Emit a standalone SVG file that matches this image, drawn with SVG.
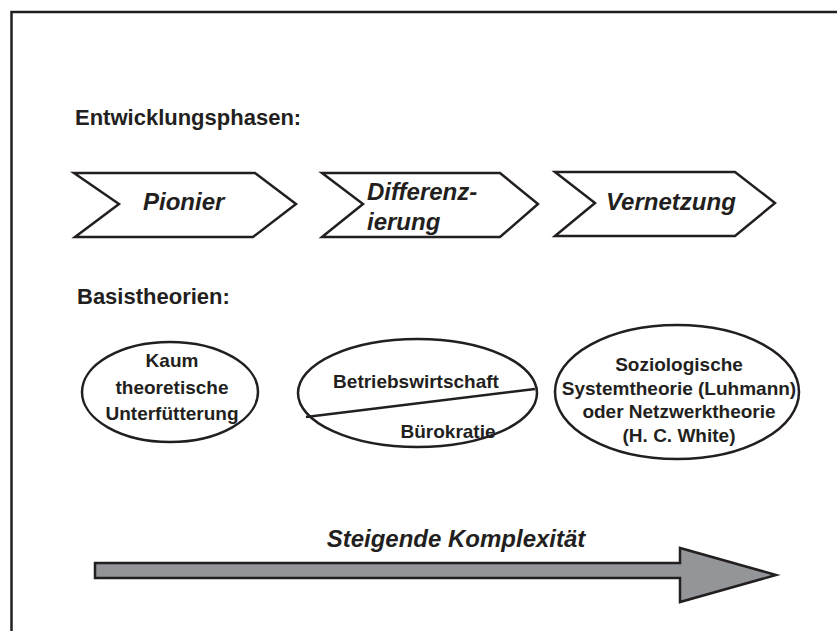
<svg xmlns="http://www.w3.org/2000/svg" width="837" height="631" viewBox="0 0 837 631">
<style>
.frame{fill:none;stroke:#231f20;stroke-width:2.5}
.chev{fill:#fff;stroke:#231f20;stroke-width:2.5;stroke-linejoin:miter}
.ell{fill:#fff;stroke:#231f20;stroke-width:2.5}
.t{font-family:"Liberation Sans",Arial,sans-serif;font-weight:bold;fill:#231f20}
.h{font-size:22px}
.c{font-size:24px;font-style:italic}
.e{font-size:19px;text-anchor:middle}
.k{font-size:24px;font-style:italic;text-anchor:middle}
.arrow{fill:#939598;stroke:#231f20;stroke-width:2.5}
</style>
<rect width="837" height="631" fill="#fff"/>
<rect class="frame" x="11.5" y="12" width="900" height="700"/>
<text class="t h" x="75" y="125">Entwicklungsphasen:</text>
<text class="t h" x="77" y="304">Basistheorien:</text>
<g id="phase-pionier">
<polygon class="chev" points="74,173 255,173 296,204 253,237 75,237 119,204"/>
<text class="t c" x="143" y="210">Pionier</text>
</g>
<g id="phase-differenzierung">
<polygon class="chev" points="322,173 500,173 538,204 500,237 322,237 363,204"/>
<text class="t c" x="367" y="200">Differenz-</text>
<text class="t c" x="367" y="230">ierung</text>
</g>
<g id="phase-vernetzung">
<polygon class="chev" points="555,172 735,172 775,203 735,236 555,236 595,203"/>
<text class="t c" x="606" y="210">Vernetzung</text>
</g>
<g id="theory-kaum">
<ellipse class="ell" cx="170" cy="392" rx="88" ry="50"/>
<text class="t e" x="172" y="367">Kaum</text>
<text class="t e" x="172" y="394">theoretische</text>
<text class="t e" x="172" y="420">Unterfütterung</text>
</g>
<g id="theory-bwl">
<ellipse class="ell" cx="417.5" cy="393" rx="119.5" ry="54"/>
<line x1="306" y1="417" x2="535" y2="389" stroke="#231f20" stroke-width="2.5"/>
<text class="t e" x="416" y="388">Betriebswirtschaft</text>
<text class="t e" x="448" y="438">Bürokratie</text>
</g>
<g id="theory-system">
<ellipse class="ell" cx="677" cy="392" rx="122" ry="67"/>
<text class="t e" x="679" y="371">Soziologische</text>
<text class="t e" x="679" y="395">Systemtheorie (Luhmann)</text>
<text class="t e" x="679" y="418">oder Netzwerktheorie</text>
<text class="t e" x="679" y="442">(H. C. White)</text>
</g>
<g id="connectors">
<text class="t k" x="456" y="547">Steigende Komplexität</text>
<polygon class="arrow" points="95,563 680,563 680,548 776,575 680,602 680,578 95,578"/>
</g>
</svg>
